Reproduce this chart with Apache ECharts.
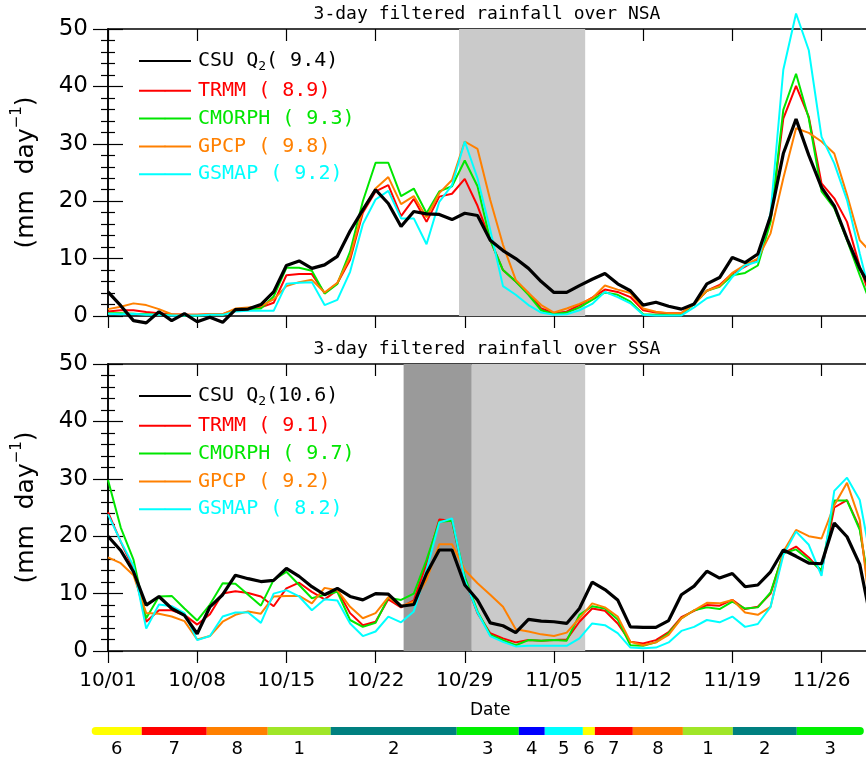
<!DOCTYPE html>
<html>
<head>
<meta charset="utf-8">
<script src="https://cdn.jsdelivr.net/npm/echarts@6/dist/echarts.min.js"></script>
<style>
  html, body { margin: 0; padding: 0; background: #fff; }
  #main { width: 866px; height: 760px; }
</style>
</head>
<body>
<div id="main"></div>
<script>
// day index 0 = 10/01 ... 60 = 11/30
var tickLabels = ["10/01", "10/08", "10/15", "10/22", "10/29", "11/05", "11/12", "11/19", "11/26"];

// ---- NSA (top panel) ----
var nsaCsu = [4.2, 1.8, -0.8, -1.2, 0.75, -0.8, 0.4, -1.0, -0.2, -1.1, 1.1, 1.2, 2.0, 4.2, 8.8, 9.6, 8.3, 8.9, 10.4, 14.8,
  18.5, 22.0, 19.6, 15.6, 18.2, 17.8, 17.7, 16.8, 17.9, 17.5, 13.2, 11.4, 10.0, 8.3, 6.0, 4.1, 4.1, 5.3, 6.4, 7.4,
  5.6, 4.4, 1.9, 2.4, 1.7, 1.2, 2.1, 5.6, 6.7, 10.2, 9.3, 10.8, 17.4, 28.3, 34.3, 28.0, 22.4, 19.2, 13.5, 8.3, 4.3];
var nsaTrmm = [0.8, 1.0, 1.0, 0.7, 0.5, 0.3, 0.2, 0.2, 0.3, 0.3, 1.1, 1.3, 1.5, 2.3, 7.1, 7.3, 7.3, 4.0, 5.7, 9.8,
  18.0, 21.7, 22.8, 17.4, 20.4, 16.4, 20.8, 21.3, 23.9, 19.2, 13.2, 8.0, 6.0, 4.0, 1.3, 0.5, 0.75, 1.9, 3.2, 4.6,
  4.2, 3.3, 1.0, 0.6, 0.5, 0.5, 2.1, 4.4, 5.4, 7.4, 8.6, 9.9, 16.7, 34.4, 40.1, 34.7, 23.1, 20.5, 16.4, 8.6, 2.2];
var nsaCmorph = [0.5, 0.5, 0.4, 0.3, 0.2, 0.2, 0.1, 0.1, 0.2, 0.2, 1.0, 1.2, 1.3, 3.4, 8.4, 8.4, 7.9, 3.9, 5.6, 11.2,
  20.0, 26.7, 26.7, 20.9, 22.2, 17.9, 21.7, 22.6, 27.1, 22.6, 13.2, 8.0, 6.0, 3.7, 1.0, 0.3, 0.6, 1.5, 2.8, 4.1,
  3.7, 2.5, 0.3, 0.2, 0.2, 0.2, 2.1, 4.4, 5.1, 7.1, 7.5, 8.8, 16.4, 35.9, 42.2, 34.4, 21.7, 18.8, 13.2, 7.1, 1.3];
var nsaGpcp = [1.2, 1.6, 2.2, 1.9, 1.2, 0.3, 0.2, 0.2, 0.3, 0.3, 1.3, 1.5, 1.7, 2.9, 5.2, 5.9, 6.3, 4.1, 5.8, 10.3,
  18.5, 22.2, 24.2, 19.5, 20.9, 17.2, 21.4, 23.7, 30.4, 29.1, 20.2, 12.4, 6.3, 4.0, 1.9, 0.6, 1.3, 2.1, 3.1, 5.3,
  4.6, 4.0, 1.3, 0.75, 0.5, 0.5, 2.1, 4.4, 5.2, 7.5, 8.9, 10.0, 14.4, 24.0, 32.7, 31.9, 30.4, 28.3, 21.1, 13.2, 10.8];
var nsaGsmap = [0.4, 0.3, 0.4, 0.2, 0.2, 0.1, 0.1, 0.1, 0.2, 0.2, 0.8, 0.9, 0.9, 0.9, 5.6, 5.8, 5.9, 1.9, 2.8, 7.7,
  16.0, 20.3, 21.8, 17.0, 17.0, 12.5, 19.9, 22.8, 30.4, 24.0, 15.0, 5.2, 3.7, 1.9, 0.6, 0.2, 0.3, 1.0, 2.1, 4.2,
  3.3, 2.2, 0.2, 0.1, 0.1, 0.1, 1.5, 3.1, 3.8, 6.8, 8.8, 9.5, 17.9, 42.9, 52.7, 46.3, 31.2, 26.6, 20.2, 10.9, 2.0];

// ---- SSA (bottom panel) ----
var ssaCsu = [20.0, 17.5, 13.8, 8.0, 9.5, 7.4, 6.2, 3.0, 7.7, 9.8, 13.2, 12.6, 12.1, 12.3, 14.4, 13.0, 11.2, 9.8, 10.9, 9.5,
  8.9, 10.0, 9.9, 7.8, 8.1, 13.5, 17.6, 17.6, 11.5, 8.9, 4.9, 4.4, 3.2, 5.5, 5.2, 5.1, 4.8, 7.4, 12.0, 10.7,
  8.9, 4.2, 4.1, 4.1, 5.3, 9.8, 11.3, 13.9, 12.7, 13.5, 11.2, 11.5, 13.8, 17.6, 16.5, 15.3, 15.2, 22.3, 19.9, 15.1, 4.0];
var ssaTrmm = [24.2, 19.0, 14.3, 5.1, 7.1, 7.1, 6.3, 4.6, 6.4, 10.0, 10.4, 10.1, 9.5, 7.8, 10.9, 11.9, 10.3, 9.0, 10.6, 6.6,
  4.5, 5.1, 9.0, 7.6, 8.8, 15.3, 22.9, 22.7, 12.4, 6.6, 3.1, 2.2, 1.5, 1.9, 1.8, 1.9, 2.0, 5.1, 7.4, 7.0,
  4.8, 1.6, 1.3, 1.9, 3.3, 5.9, 7.0, 8.0, 7.9, 8.9, 7.3, 7.7, 10.0, 17.0, 18.2, 16.3, 13.8, 25.0, 26.3, 21.4, 6.5];
var ssaCmorph = [29.8, 21.5, 15.9, 5.7, 9.5, 9.6, 7.4, 5.3, 8.1, 11.8, 11.7, 9.8, 7.9, 12.4, 13.8, 11.5, 9.2, 9.8, 10.3, 5.4,
  4.2, 4.9, 9.3, 8.9, 10.0, 15.9, 22.5, 22.7, 12.9, 6.9, 2.8, 1.9, 1.0, 1.9, 1.8, 1.9, 1.8, 6.3, 7.8, 7.4,
  5.5, 1.0, 0.9, 1.5, 3.1, 5.7, 7.1, 7.6, 7.3, 8.6, 7.4, 7.6, 10.2, 17.0, 17.7, 15.9, 14.1, 26.2, 26.2, 21.1, 8.2];
var ssaGpcp = [16.3, 15.3, 13.2, 6.6, 6.5, 6.0, 5.2, 2.0, 2.6, 5.1, 6.3, 6.9, 6.5, 9.5, 9.6, 9.6, 8.3, 11.0, 10.6, 7.7,
  5.7, 6.6, 9.4, 7.8, 8.6, 12.4, 18.6, 18.6, 14.1, 11.8, 9.8, 7.7, 3.8, 3.4, 2.9, 2.6, 3.2, 5.7, 8.3, 7.6,
  6.0, 1.6, 1.0, 1.5, 2.8, 5.7, 7.1, 8.4, 8.3, 8.9, 6.7, 6.3, 7.7, 17.3, 21.1, 20.0, 19.6, 25.4, 29.3, 22.8, 3.2];
var ssaGsmap = [23.8, 19.1, 14.8, 3.9, 8.1, 7.8, 6.6, 1.9, 2.6, 6.0, 6.7, 6.7, 4.9, 10.0, 10.6, 9.5, 7.1, 9.0, 8.8, 4.8,
  2.6, 3.4, 6.0, 5.0, 6.9, 14.1, 22.4, 23.1, 12.4, 6.7, 2.6, 1.6, 0.8, 0.9, 0.9, 0.9, 0.9, 2.2, 4.8, 4.5,
  3.1, 0.6, 0.5, 0.6, 1.5, 3.5, 4.2, 5.4, 5.0, 6.0, 4.2, 4.7, 7.7, 16.7, 20.8, 18.5, 13.1, 27.9, 30.2, 26.3, 14.5];

// legend numbers (period means)
var nsaMeans = ["( 9.4)", "( 8.9)", "( 9.3)", "( 9.8)", "( 9.2)"];
var ssaMeans = ["(10.6)", "( 9.1)", "( 9.7)", "( 9.2)", "( 8.2)"];
var productNames = ["CSU", "TRMM", "CMORPH", "GPCP", "GSMAP"];
var productColors = ["#000000", "#ff0000", "#00e600", "#ff8000", "#00ffff"];

// shaded periods (day index)
var nsaShadeLight = [[27.55, 37.45]];
var ssaShadeDark = [[23.2, 28.55]];
var ssaShadeLight = [[28.55, 37.45]];

// MJO phase strip
var phaseEdges = [-1.28, 2.65, 7.75, 12.54, 17.48, 27.37, 32.24, 34.28, 37.27, 38.21, 41.19, 45.12, 49.04, 54.06, 59.32];
var phaseNums = [6, 7, 8, 1, 2, 3, 4, 5, 6, 7, 8, 1, 2, 3];
var phaseColors = { 1: "#a0e628", 2: "#008080", 3: "#00f000", 4: "#0000ff", 5: "#00ffff", 6: "#ffff00", 7: "#ff0000", 8: "#ff8000" };

function pairs(arr) {
  var out = [];
  for (var i = 0; i < arr.length; i++) out.push([i, arr[i]]);
  return out;
}

var MONO = "DejaVu Sans Mono";
var SANS = "DejaVu Sans";

function xAxes(gridIndex, pos, showLabels) {
  return {
    type: "value", gridIndex: gridIndex, position: pos, min: 0, max: 60, interval: 7,
    axisLine: { show: true, onZero: false, lineStyle: { color: "#000", width: 1.5 } },
    axisTick: { show: true, inside: pos === "top", length: 12, lineStyle: { color: "#000", width: 1.2 } },
    axisLabel: {
      show: showLabels, margin: 20, color: "#000", fontFamily: SANS, fontSize: 20,
      formatter: function (v) { var k = v / 7; return tickLabels[k] || ""; }
    },
    splitLine: { show: false },
    name: showLabels ? "Date" : "", nameLocation: "middle", nameGap: 51,
    nameTextStyle: { color: "#000", fontFamily: SANS, fontSize: 17 }
  };
}

function yAxes(gridIndex, pos) {
  var left = pos === "left";
  return {
    type: "value", gridIndex: gridIndex, position: pos, min: 0, max: 50, interval: 10,
    axisLine: { show: true, lineStyle: { color: "#000", width: 1.5 } },
    axisTick: { show: true, inside: true, length: 15, lineStyle: { color: "#000", width: 1.2 } },
    minorTick: { show: true, splitNumber: 5, length: 7, lineStyle: { color: "#000", width: 1.2 } },
    axisLabel: { show: left, margin: 20, color: "#000", fontFamily: SANS, fontSize: 23 },
    splitLine: { show: false },
    name: left ? "(mm  day{sup|\u22121})" : "", nameLocation: "middle", nameGap: 66, nameRotate: 90,
    nameTextStyle: {
      color: "#000", fontFamily: SANS, fontSize: 25, lineHeight: 32,
      rich: { sup: { fontFamily: SANS, fontSize: 15, verticalAlign: "top", lineHeight: 32, color: "#000" } }
    }
  };
}

function lineSeries(name, data, color, xi, yi) {
  return {
    name: name, type: "line", xAxisIndex: xi, yAxisIndex: yi, data: pairs(data),
    symbol: "none", clip: false, silent: true,
    lineStyle: { color: color, width: color === "#000000" ? 3.2 : 2 },
    itemStyle: { color: color }
  };
}

function shadeSeries(xi, yi, ranges, color) {
  var areas = ranges.map(function (r) { return [{ xAxis: r[0] }, { xAxis: r[1] }]; });
  return {
    type: "line", xAxisIndex: xi, yAxisIndex: yi, data: [], z: 0, silent: true,
    markArea: { silent: true, itemStyle: { color: color }, data: areas }
  };
}

var drawOrder = [1, 2, 3, 4, 0];
var series = [];
series.push(shadeSeries(0, 0, nsaShadeLight, "#cacaca"));
series.push(shadeSeries(2, 2, ssaShadeDark, "#9a9a9a"));
series.push(shadeSeries(2, 2, ssaShadeLight, "#cacaca"));
var nsaData = [nsaCsu, nsaTrmm, nsaCmorph, nsaGpcp, nsaGsmap];
var ssaData = [ssaCsu, ssaTrmm, ssaCmorph, ssaGpcp, ssaGsmap];
drawOrder.forEach(function (k) {
  series.push(lineSeries("n" + productNames[k], nsaData[k], productColors[k], 0, 0));
});
drawOrder.forEach(function (k) {
  series.push(lineSeries("s" + productNames[k], ssaData[k], productColors[k], 2, 2));
});

var phaseData = [];
for (var k = 0; k < phaseNums.length; k++) phaseData.push([phaseEdges[k], phaseEdges[k + 1], phaseNums[k], k]);
series.push({
  type: "custom", xAxisIndex: 4, yAxisIndex: 4, data: phaseData, clip: false, silent: true,
  renderItem: function (params, api) {
    var p0 = api.coord([api.value(0), 1]);
    var p1 = api.coord([api.value(1), 0]);
    var idx = api.value(3);
    var h = p1[1] - p0[1];
    var r = [0, 0, 0, 0];
    if (idx === 0) r = [h / 2, 0, 0, h / 2];
    if (idx === phaseNums.length - 1) r = [0, h / 2, h / 2, 0];
    return {
      type: "group",
      children: [
        { type: "rect", shape: { x: p0[0], y: p0[1], width: p1[0] - p0[0], height: h, r: r },
          style: { fill: phaseColors[api.value(2)] } },
        { type: "text", style: { text: String(api.value(2)), x: (p0[0] + p1[0]) / 2, y: p1[1] + 14,
          align: "center", verticalAlign: "middle", font: "18px " + SANS, fill: "#000" } }
      ]
    };
  }
});

function legendFor(prefix, means, top) {
  return {
    orient: "vertical", left: 133, top: top, itemWidth: 52, itemHeight: 2, itemGap: 7.8,
    selectedMode: false,
    data: productNames.map(function (n, i) {
      return { name: prefix + n, textStyle: { color: productColors[i] } };
    }),
    formatter: function (name) {
      var i = productNames.indexOf(name.slice(1));
      var m = name[0] === "n" ? nsaMeans[i] : ssaMeans[i];
      if (i === 0) return "{g| }{a|CSU Q}{s|2}{a|" + m + "}";
      return "{g| }{a|" + productNames[i] + " " + m + "}";
    },
    textStyle: {
      fontFamily: MONO, fontSize: 20,
      rich: {
        g: { width: 2, fontSize: 6 },
        a: { fontFamily: MONO, fontSize: 20, lineHeight: 24, verticalAlign: "middle" },
        s: { fontFamily: MONO, fontSize: 13, lineHeight: 24, verticalAlign: "bottom" }
      }
    }
  };
}

var option = {
  backgroundColor: "#fff",
  animation: false,
  title: [
    { text: "3-day filtered rainfall over NSA", left: 487, top: 5, textAlign: "center", padding: 0,
      textStyle: { fontFamily: MONO, fontSize: 18, fontWeight: "normal", color: "#000" } },
    { text: "3-day filtered rainfall over SSA", left: 487, top: 340, textAlign: "center", padding: 0,
      textStyle: { fontFamily: MONO, fontSize: 18, fontWeight: "normal", color: "#000" } }
  ],
  legend: [legendFor("n", nsaMeans, 46), legendFor("s", ssaMeans, 381)],
  grid: [
    { left: 108, top: 29, width: 764.5, height: 287, outerBoundsMode: "none" },
    { left: 108, top: 364, width: 764.5, height: 287, outerBoundsMode: "none" },
    { left: 108, top: 727, width: 764.5, height: 8, outerBoundsMode: "none" }
  ],
  xAxis: [
    xAxes(0, "bottom", false),
    xAxes(0, "top", false),
    xAxes(1, "bottom", true),
    xAxes(1, "top", false),
    { type: "value", gridIndex: 2, min: 0, max: 60, show: false }
  ],
  yAxis: [
    yAxes(0, "left"),
    yAxes(0, "right"),
    yAxes(1, "left"),
    yAxes(1, "right"),
    { type: "value", gridIndex: 2, min: 0, max: 1, show: false }
  ],
  series: series
};

var myChart = echarts.init(document.getElementById("main"));
myChart.setOption(option);
</script>
</body>
</html>
